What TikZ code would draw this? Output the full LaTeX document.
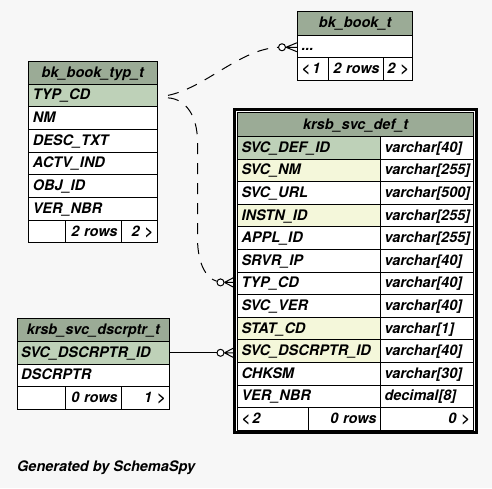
\documentclass[tikz,border=0pt]{standalone}
\usepackage{fontspec}
\newfontfamily\hv{TeX Gyre Heros}
\usetikzlibrary{calc}
\definecolor{bgc}{HTML}{F7F7F7}
\definecolor{hdr}{HTML}{9BAB96}
\definecolor{pk}{HTML}{BED1B8}
\definecolor{idx}{HTML}{F4F7DA}
\tikzset{
 tf/.style={font=\hv\bfseries\itshape\fontsize{14.5}{17}\selectfont},
 cellbase/.style={draw=black, line width=1pt, anchor=north west, inner ysep=0pt, inner xsep=4pt, text height=12pt, text depth=3pt, tf},
 circ/.style={circle, draw=black, fill=white, line width=1pt, minimum size=7pt, inner sep=0pt},
 rel/.style={draw=black, line width=1pt},
 reldash/.style={rel, dash pattern=on 11pt off 9pt},
 crow/.style={draw=black, line width=1pt},
}
\newcommand\tcell[8]{%
 \pgfmathsetmacro\tcw{#4-8}%
 \node[cellbase, fill=#6, text width=\tcw pt, minimum height=#5pt, align=#7] (#1) at (#2,#3) {#8};}
\begin{document}
\begin{tikzpicture}[x=1pt,y=-1pt]
\fill[bgc] (0,0) rectangle (492,488);
\useasboundingbox (0,0) rectangle (492,488);

% bk_book_t
\tcell{bt-h}{297}{11}{115.3}{23.5}{hdr}{center}{bk\_book\_t}
\tcell{bt-r1}{297}{34.5}{115.3}{22.5}{white}{left}{...}
\tcell{bt-f1}{297}{57}{31}{22.5}{white}{left}{<\,1}
\tcell{bt-f2}{328}{57}{55}{22.5}{white}{right}{\makebox[\linewidth][r]{2 rows}}
\tcell{bt-f3}{383}{57}{29.3}{22.5}{white}{right}{\makebox[\linewidth][r]{2 >}}

% bk_book_typ_t
\tcell{tt-h}{28.3}{60.5}{128.2}{23}{hdr}{center}{bk\_book\_typ\_t}
\tcell{tt-typ}{28.3}{83.5}{128.2}{22.7}{pk}{left}{TYP\_CD}
\tcell{tt-nm}{28.3}{106.2}{128.2}{22.7}{white}{left}{NM}
\tcell{tt-desc}{28.3}{128.9}{128.2}{22.7}{white}{left}{DESC\_TXT}
\tcell{tt-actv}{28.3}{151.6}{128.2}{22.7}{white}{left}{ACTV\_IND}
\tcell{tt-obj}{28.3}{174.3}{128.2}{22.7}{white}{left}{OBJ\_ID}
\tcell{tt-ver}{28.3}{197}{128.2}{22.7}{white}{left}{VER\_NBR}
\tcell{tt-f1}{28.3}{219.7}{36.7}{22.7}{white}{left}{}
\tcell{tt-f2}{65}{219.7}{56}{22.7}{white}{right}{2 rows}
\tcell{tt-f3}{121}{219.7}{35.5}{22.7}{white}{right}{2 >}

% krsb_svc_def_t
\draw[line width=3pt, fill=white] (234,109.3) rectangle (476.3,432.8);
\tcell{df-h}{237}{112.3}{236.3}{23.7}{hdr}{center}{krsb\_svc\_def\_t}
\tcell{df-id}{237}{136}{143}{22.6}{pk}{left}{SVC\_DEF\_ID}
\tcell{df-idt}{380}{136}{93.3}{22.6}{white}{left}{varchar[40]}
\tcell{df-nm}{237}{158.6}{143}{22.6}{idx}{left}{SVC\_NM}
\tcell{df-nmt}{380}{158.6}{93.3}{22.6}{white}{left}{varchar[255]}
\tcell{df-url}{237}{181.2}{143}{22.6}{white}{left}{SVC\_URL}
\tcell{df-urlt}{380}{181.2}{93.3}{22.6}{white}{left}{varchar[500]}
\tcell{df-inst}{237}{203.8}{143}{22.6}{idx}{left}{INSTN\_ID}
\tcell{df-instt}{380}{203.8}{93.3}{22.6}{white}{left}{varchar[255]}
\tcell{df-appl}{237}{226.4}{143}{22.6}{white}{left}{APPL\_ID}
\tcell{df-applt}{380}{226.4}{93.3}{22.6}{white}{left}{varchar[255]}
\tcell{df-srvr}{237}{249}{143}{22.6}{white}{left}{SRVR\_IP}
\tcell{df-srvrt}{380}{249}{93.3}{22.6}{white}{left}{varchar[40]}
\tcell{df-typ}{237}{271.6}{143}{22.6}{white}{left}{TYP\_CD}
\tcell{df-typt}{380}{271.6}{93.3}{22.6}{white}{left}{varchar[40]}
\tcell{df-ver}{237}{294.2}{143}{22.6}{white}{left}{SVC\_VER}
\tcell{df-vert}{380}{294.2}{93.3}{22.6}{white}{left}{varchar[40]}
\tcell{df-stat}{237}{316.8}{143}{22.6}{idx}{left}{STAT\_CD}
\tcell{df-statt}{380}{316.8}{93.3}{22.6}{white}{left}{varchar[1]}
\tcell{df-dsc}{237}{339.4}{143}{22.6}{idx}{left}{SVC\_DSCRPTR\_ID}
\tcell{df-dsct}{380}{339.4}{93.3}{22.6}{white}{left}{varchar[40]}
\tcell{df-chk}{237}{362}{143}{22.6}{white}{left}{CHKSM}
\tcell{df-chkt}{380}{362}{93.3}{22.6}{white}{left}{varchar[30]}
\tcell{df-vnb}{237}{384.6}{143}{22.6}{white}{left}{VER\_NBR}
\tcell{df-vnbt}{380}{384.6}{93.3}{22.6}{white}{left}{decimal[8]}
\tcell{df-f1}{237}{407.2}{71}{22.6}{white}{left}{<\,2}
\tcell{df-f2}{308}{407.2}{72}{22.6}{white}{right}{0 rows}
\tcell{df-f3}{380}{407.2}{93.3}{22.6}{white}{right}{0 >}

% krsb_svc_dscrptr_t
\tcell{ds-h}{16.7}{318}{152.3}{23}{hdr}{center}{krsb\_svc\_dscrptr\_t}
\tcell{ds-id}{16.7}{341}{152.3}{22.6}{pk}{left}{SVC\_DSCRPTR\_ID}
\tcell{ds-d}{16.7}{363.6}{152.3}{22.6}{white}{left}{DSCRPTR}
\tcell{ds-f1}{16.7}{386.2}{48.3}{22.6}{white}{left}{}
\tcell{ds-f2}{65}{386.2}{56}{22.6}{white}{right}{0 rows}
\tcell{ds-f3}{121}{386.2}{48}{22.6}{white}{right}{1 >}

% connectors
\coordinate (s1) at ($(tt-typ.east)+(10.5,0)$);
\coordinate (s2) at ($(tt-typ.east)+(10.5,2.5)$);
\node[circ] (o1) at ($(bt-r1.west)+(-15,1)$) {};
\node[circ] (o2) at ($(df-typ.west)+(-16.5,-1)$) {};
\node[circ] (o3) at ($(df-dsc.west |- ds-id.east)+(-16.5,0)$) {};

\draw[reldash] (s1) .. controls (205,88) and (240,49) .. (o1);
\draw[reldash] (s2) .. controls (186,99) and (197.5,116) .. (197.5,142) -- (197.5,240) .. controls (198,264) and (206,278) .. (o2);
\draw[rel] (ds-id.east) -- (o3);

\draw[crow] (o1.east) -- ($(o1.center)+(15,-4.5)$) (o1.east) -- ($(o1.center)+(15,0)$) (o1.east) -- ($(o1.center)+(15,4.5)$);
\draw[crow] (o2.east) -- ($(o2.center)+(12.5,-4.5)$) (o2.east) -- ($(o2.center)+(12.5,0)$) (o2.east) -- ($(o2.center)+(12.5,4.5)$);
\draw[crow] (o3.east) -- ($(o3.center)+(12.5,-4.5)$) (o3.east) -- ($(o3.center)+(12.5,0)$) (o3.east) -- ($(o3.center)+(12.5,4.5)$);

\node[tf, anchor=base west, inner sep=0pt] (gen) at (17,471.5) {Generated by SchemaSpy};
\end{tikzpicture}
\end{document}
